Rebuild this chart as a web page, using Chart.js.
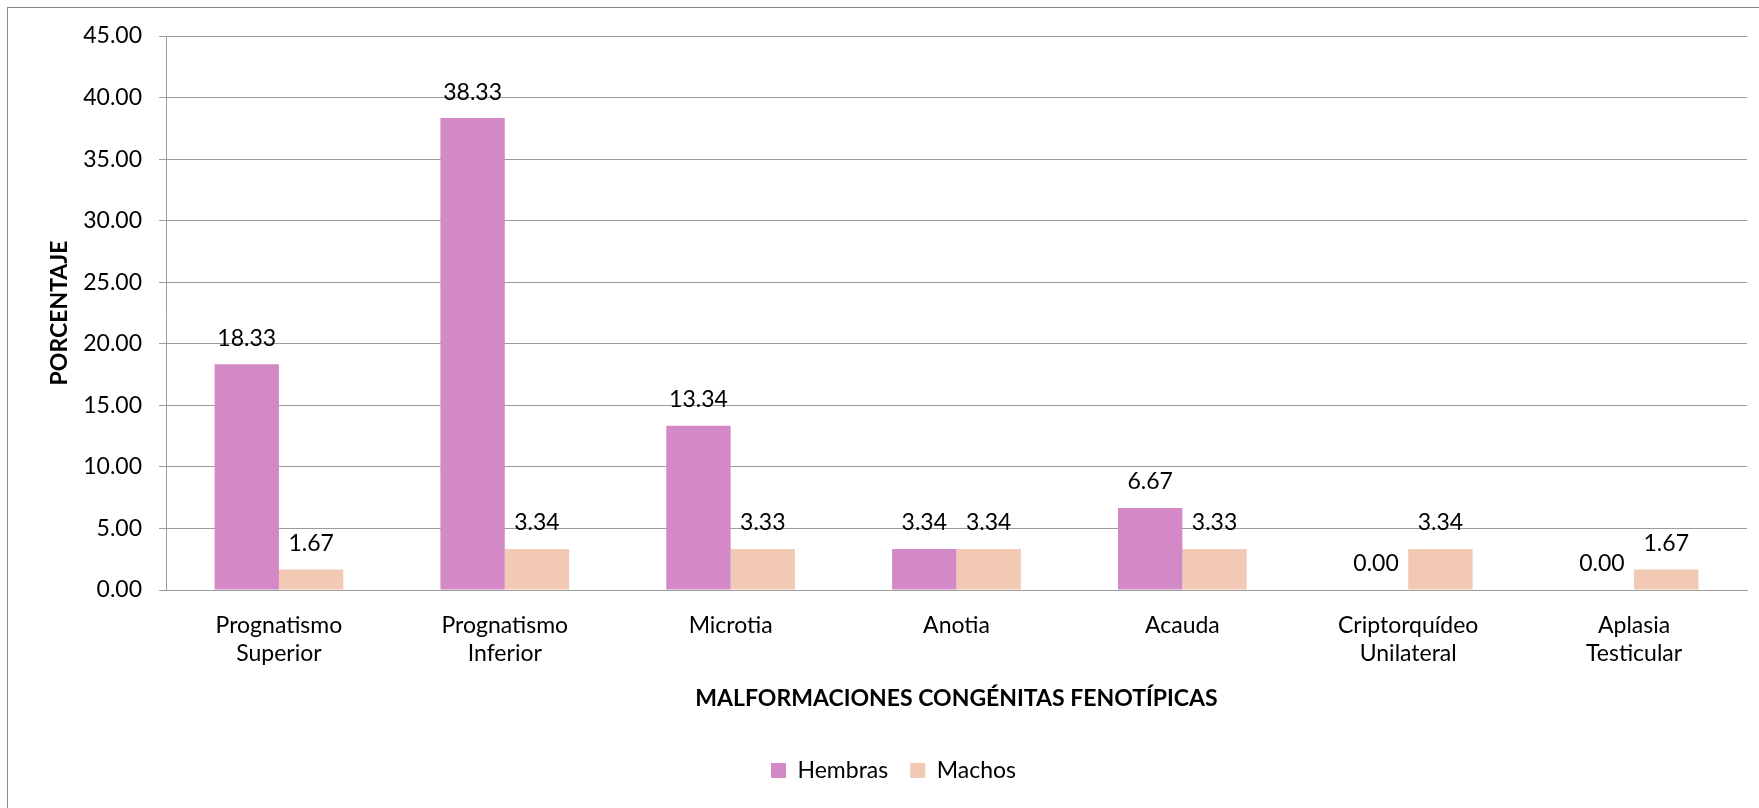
<!DOCTYPE html>
<html>
<head>
<meta charset="utf-8">
<script src="https://cdn.jsdelivr.net/npm/chart.js@4.4.1/dist/chart.umd.min.js"></script>
<style>
  html, body { margin: 0; padding: 0; background: #fff; overflow: hidden; }
  #wrap { position: absolute; left: 0; top: 0; width: 1759px; height: 808px; }
</style>
</head>
<body>
<div id="wrap"><canvas id="chart" width="1759" height="808"></canvas></div>
<script>
// categories (two-line labels as in the original)
const categories = [
    ['Prognatismo', 'Superior'],
    ['Prognatismo', 'Inferior'],
    ['Microtia'],
    ['Anotia'],
    ['Acauda'],
    ['Criptorquídeo', 'Unilateral'],
    ['Aplasia', 'Testicular']
];
const hembras = [18.33, 38.33, 13.34, 3.34, 6.67, 0.00, 0.00];
const machos = [1.67, 3.34, 3.33, 3.34, 3.33, 3.34, 1.67];
const yTicks = [0, 5, 10, 15, 20, 25, 30, 35, 40, 45];

const gridColor = '#9c9c9c';
Chart.defaults.font.family = 'Lato';
Chart.defaults.color = '#000';

// white page + the outer chart frame (its right/bottom sides run off the picture)
const frame = {
    id: 'frame',
    beforeDraw(chart) {
        const ctx = chart.ctx;
        ctx.save();
        ctx.fillStyle = '#fff';
        ctx.fillRect(0, 0, chart.width, chart.height);
        ctx.strokeStyle = '#8a8a8a';
        ctx.lineWidth = 1;
        ctx.strokeRect(7.5, 7.5, 1900, 1000);
        ctx.restore();
    }
};

// value labels above every bar
const barLabels = {
    id: 'barLabels',
    afterDatasetsDraw(chart) {
        const ctx = chart.ctx;
        ctx.save();
        ctx.font = '23px Lato';
        ctx.fillStyle = '#000';
        ctx.textAlign = 'center';
        ctx.textBaseline = 'middle';
        chart.data.datasets.forEach((ds, i) => {
            chart.getDatasetMeta(i).data.forEach((bar, j) => {
                ctx.fillText(ds.data[j].toFixed(2), bar.x, bar.y - 26);
            });
        });
        ctx.restore();
    }
};

const ctx = document.getElementById('chart').getContext('2d');
new Chart(ctx, {
    type: 'bar',
    data: {
        labels: categories,
        datasets: [
            { label: 'Hembras', data: hembras, backgroundColor: 'rgb(211, 137, 198)' },
            { label: 'Machos', data: machos, backgroundColor: 'rgb(242, 201, 181)' }
        ]
    },
    options: {
        responsive: false,
        animation: false,
        layout: { padding: { left: 40, top: 36, right: 12, bottom: 16 } },
        datasets: {
            bar: { barPercentage: 1.0, categoryPercentage: 0.57 }
        },
        scales: {
            x: {
                grid: { display: false, drawTicks: false },
                border: { display: true, color: gridColor, width: 1 },
                ticks: { font: { size: 23 }, padding: 22, maxRotation: 0 },
                title: {
                    display: true,
                    text: 'MALFORMACIONES CONGÉNITAS FENOTÍPICAS',
                    font: { size: 23, weight: 'bold' },
                    padding: { top: 0, bottom: 25 }
                },
                afterFit(scale) { scale.height = 147; }
            },
            y: {
                min: 0,
                max: 45,
                afterBuildTicks(scale) { scale.ticks = yTicks.map(v => ({ value: v })); },
                grid: { color: gridColor, tickLength: 7, drawTicks: true },
                border: { display: true, color: gridColor, width: 1 },
                ticks: {
                    font: { size: 23 },
                    padding: 17,
                    callback: v => Number(v).toFixed(2)
                },
                title: {
                    display: true,
                    text: 'PORCENTAJE',
                    font: { size: 23, weight: 'bold' },
                    padding: { top: 6, bottom: 0 }
                },
                afterFit(scale) { scale.width = 126; }
            }
        },
        plugins: {
            legend: {
                position: 'bottom',
                labels: {
                    font: { size: 23 },
                    boxWidth: 15,
                    boxHeight: 15,
                    padding: 22
                }
            },
            tooltip: { enabled: false }
        }
    },
    plugins: [frame, barLabels]
});
</script>
</body>
</html>
